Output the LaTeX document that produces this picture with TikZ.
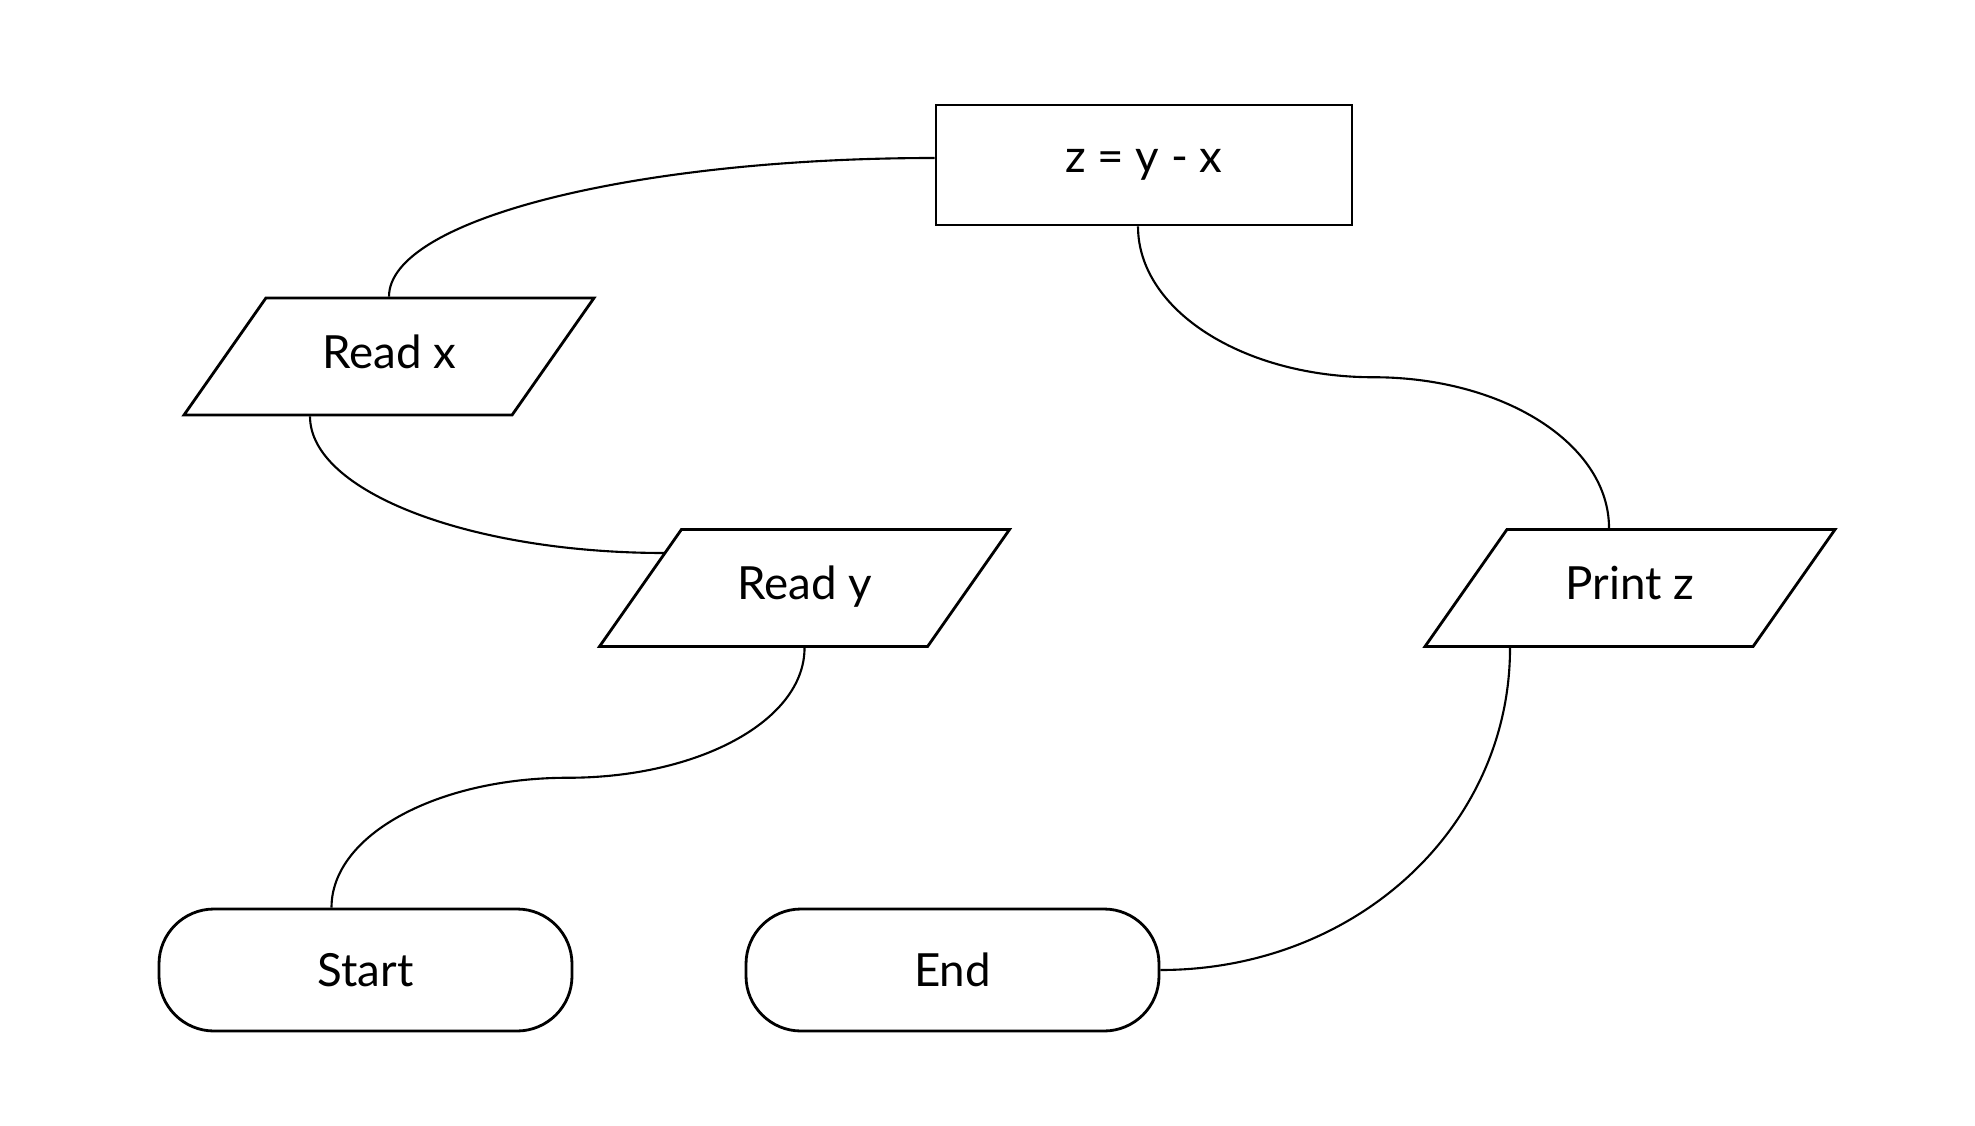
\documentclass[tikz,border=0pt]{standalone}
\usepackage{fontspec}
\setmainfont{Lato}
\usetikzlibrary{shapes.geometric,calc}

\begin{document}
\begin{tikzpicture}[
    every node/.style={font=\fontsize{13}{15}\selectfont},
    proc/.style={draw, line width=0.8pt, rectangle, minimum width=4.16cm, minimum height=1.2cm},
    io/.style={draw, line width=0.8pt, trapezium, trapezium left angle=55, trapezium right angle=125,
        trapezium stretches body, text height=0.33cm, text depth=0.1cm, inner ysep=0.37cm, minimum width=4.10cm},
    term/.style={draw, line width=0.8pt, rectangle, rounded corners=0.55cm, minimum width=4.13cm, minimum height=1.22cm},
    link/.style={line width=0.6pt}
]
    \useasboundingbox (0,0) rectangle (19.75,11.25);

    % steps of the flow
    \node[proc] (calc) at (11.44,9.60) {z = y - x};
    \node[io] (readx) at (3.89,7.685) {Read x};
    \node[io] (ready) at (8.045,5.37) {Read y};
    \node[io] (printz) at (16.30,5.37) {Print z};
    \node[term] (start) at (3.655,1.55) {Start};
    \node[term] (finish) at (9.525,1.55) {End};

    % connectors
    \draw[link] (ready.south) .. controls +(0,-0.73) and +(1.3,0) .. ($(ready.south)!0.5!([xshift=-3.4mm]start.north)$)
        .. controls +(-1.3,0) and +(0,0.73) .. ([xshift=-3.4mm]start.north);
    \draw[link] ([xshift=-7.9mm]readx.south) .. controls +(0,-0.75) and +(-1.95,0) .. ([xshift=-14mm,yshift=3.5mm]ready.center);
    \draw[link] ([yshift=0.7mm]calc.west) .. controls +(-3.0,0) and +(0,0.77) .. (readx.north);
    \draw[link] ([xshift=-0.6mm]calc.south) .. controls +(0,-0.84) and +(-1.3,0) .. ($([xshift=-0.6mm]calc.south)!0.5!([xshift=-2.1mm]printz.north)$)
        .. controls +(1.3,0) and +(0,0.84) .. ([xshift=-2.1mm]printz.north);
    \draw[link] ([xshift=-12mm]printz.south) .. controls +(0,-1.8) and +(1.95,0) .. (finish.east);
\end{tikzpicture}
\end{document}
